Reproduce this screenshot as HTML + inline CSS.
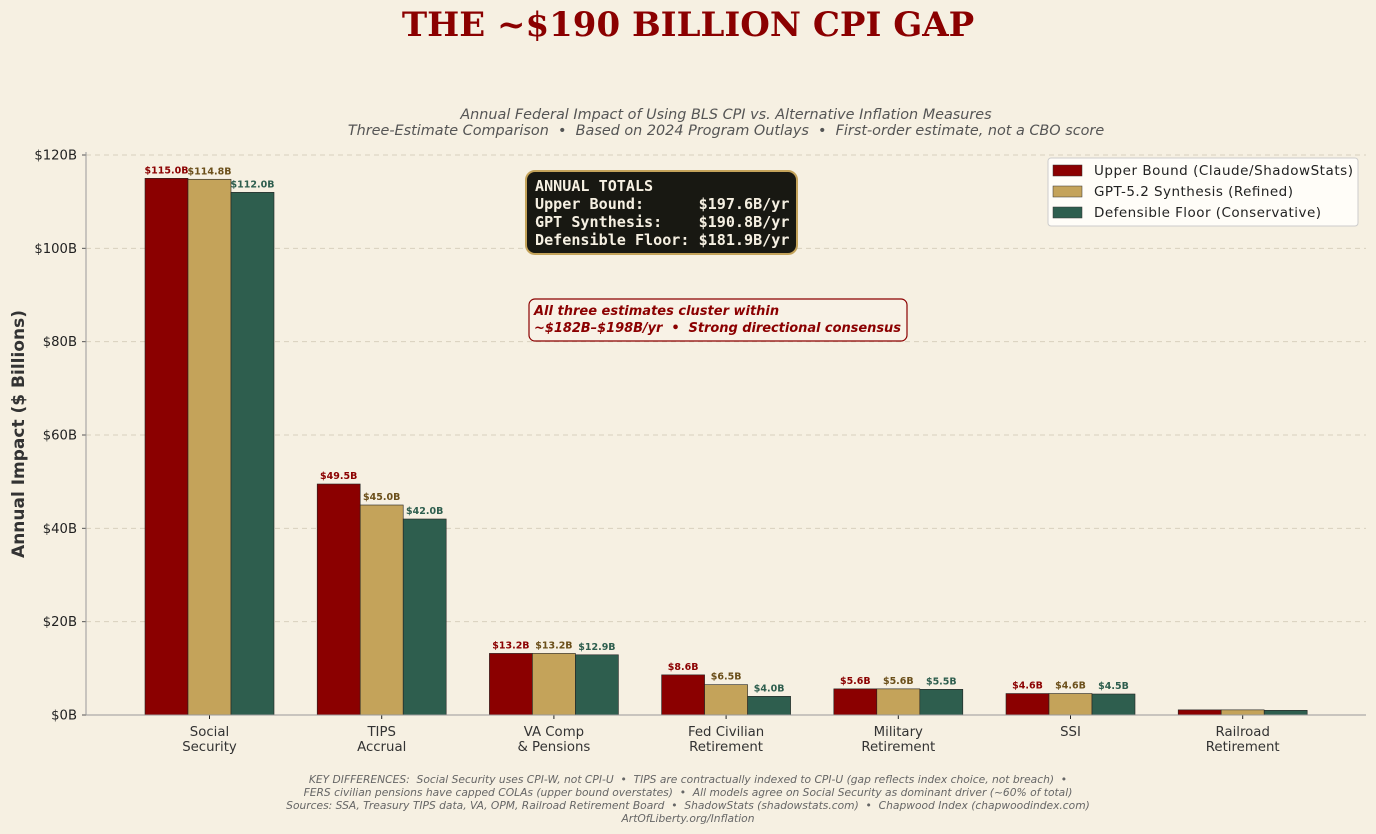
<!DOCTYPE html>
<html><head><meta charset="utf-8"><style>
html,body{margin:0;padding:0;background:#f6f0e2;width:1376px;height:834px;overflow:hidden}
svg{display:block}
text{font-family:"DejaVu Sans","Liberation Sans",sans-serif;white-space:pre}
</style></head><body>
<svg id="chart" width="1376" height="834" xmlns="http://www.w3.org/2000/svg">
<rect width="1376" height="834" fill="#f6f0e2"/>
<text x="688" y="36" text-anchor="middle" font-weight="bold" font-size="34" fill="#8b0000" style="font-family:'DejaVu Serif','Liberation Serif',serif">THE ~$190 BILLION CPI GAP</text>
<text x="726" y="119" text-anchor="middle" font-style="italic" font-size="14.4" fill="#555">Annual Federal Impact of Using BLS CPI vs. Alternative Inflation Measures</text>
<text x="726" y="135" text-anchor="middle" font-style="italic" font-size="14.4" fill="#555">Three-Estimate Comparison  •  Based on 2024 Program Outlays  •  First-order estimate, not a CBO score</text>
<g id="grid"></g>
<g id="bars"></g>
<g id="axes"></g>
<text transform="translate(24,434) rotate(-90)" text-anchor="middle" font-weight="bold" font-size="17" fill="#333">Annual Impact ($ Billions)</text>
<g>
<rect x="526" y="171" width="271" height="83" rx="9" fill="#181812" stroke="#c4a35a" stroke-width="2"/>
<text font-weight="bold" font-size="15.1" fill="#f6f0e2" style="font-family:'DejaVu Sans Mono','Liberation Mono',monospace"><tspan x="535" y="191">ANNUAL TOTALS</tspan><tspan x="535" y="209">Upper Bound:      $197.6B/yr</tspan><tspan x="535" y="227">GPT Synthesis:    $190.8B/yr</tspan><tspan x="535" y="245">Defensible Floor: $181.9B/yr</tspan></text>
</g>
<g>
<rect x="529" y="299" width="378" height="42" rx="6" fill="#f8f2e6" stroke="#8b0000" stroke-width="1.2"/>
<text x="534" y="315" font-style="italic" font-weight="bold" font-size="13" fill="#8b0000">All three estimates cluster within</text>
<text x="534" y="332" font-style="italic" font-weight="bold" font-size="13" fill="#8b0000" textLength="367">~$182B–$198B/yr  •  Strong directional consensus</text>
</g>
<g>
<rect x="1048" y="158" width="310" height="68" rx="3" fill="#fffdf8" stroke="#ccc"/>
<rect x="1053" y="165" width="29" height="11" fill="#8b0000" stroke="#333" stroke-width="0.5"/>
<text x="1094" y="175" font-size="13.5" fill="#222" textLength="259">Upper Bound (Claude/ShadowStats)</text>
<rect x="1053" y="186" width="29" height="11" fill="#c4a35a" stroke="#333" stroke-width="0.5"/>
<text x="1094" y="196" font-size="13.5" fill="#222" textLength="199">GPT-5.2 Synthesis (Refined)</text>
<rect x="1053" y="207" width="29" height="11" fill="#2e5e4e" stroke="#333" stroke-width="0.5"/>
<text x="1094" y="217" font-size="13.5" fill="#222" textLength="227">Defensible Floor (Conservative)</text>
</g>
<g font-style="italic" font-size="10.7" fill="#666" text-anchor="middle">
<text x="688" y="783">KEY DIFFERENCES:  Social Security uses CPI-W, not CPI-U  •  TIPS are contractually indexed to CPI-U (gap reflects index choice, not breach)  •</text>
<text x="688" y="796">FERS civilian pensions have capped COLAs (upper bound overstates)  •  All models agree on Social Security as dominant driver (~60% of total)</text>
<text x="688" y="809">Sources: SSA, Treasury TIPS data, VA, OPM, Railroad Retirement Board  •  ShadowStats (shadowstats.com)  •  Chapwood Index (chapwoodindex.com)</text>
<text x="688" y="822">ArtOfLiberty.org/Inflation</text>
</g>
</svg>
<script>
const categories = [["Social","Security"],["TIPS","Accrual"],["VA Comp","& Pensions"],["Fed Civilian","Retirement"],["Military","Retirement"],["SSI"],["Railroad","Retirement"]];
const upperBound = [115.0,49.5,13.2,8.6,5.6,4.6,1.1];
const gptSynthesis = [114.8,45.0,13.2,6.5,5.6,4.6,1.1];
const defensibleFloor = [112.0,42.0,12.9,4.0,5.5,4.5,1.0];
const showLabels = [true,true,true,true,true,true,false];
const yTicks = [0,20,40,60,80,100,120];

const NS="http://www.w3.org/2000/svg";
const x0=86,x1=1366,yBase=715,yTop=155,yMax=120;
const y=v=>yBase-(v/yMax)*(yBase-yTop);
const xc=i=>209.5+i*172.2;
const bw=43;
function mk(tag,attrs,parent,txt){const e=document.createElementNS(NS,tag);for(const k in attrs)e.setAttribute(k,attrs[k]);if(txt!==undefined)e.textContent=txt;parent.appendChild(e);return e;}
const grid=document.getElementById('grid'),bars=document.getElementById('bars'),axes=document.getElementById('axes');
yTicks.forEach(t=>{
  if(t>0){const g=mk('line',{x1:x0,x2:x1,y1:y(t),y2:y(t),stroke:'#d8d0bd','stroke-dasharray':'5,4','stroke-width':1},grid);
  
  }
  const tk=mk('text',{x:77,y:y(t)+4.5,'text-anchor':'end','font-size':13.2,fill:'#222'},axes,'$'+t+'B');
  
  
  mk('line',{x1:82,x2:86,y1:y(t),y2:y(t),stroke:'#555'},axes);
});
const series=[[upperBound,'#8b0000','#8b0000','upper'],[gptSynthesis,'#c4a35a','#6b4f1a','gpt'],[defensibleFloor,'#2e5e4e','#2e5e4e','floor']];
categories.forEach((c,i)=>{
  series.forEach((s,j)=>{
    const v=s[0][i];const bx=xc(i)-1.5*bw+j*bw;
    const r=mk('rect',{x:bx,y:y(v),width:bw,height:yBase-y(v),fill:s[1],stroke:'#222','stroke-width':0.6},bars);
    
    
    if(showLabels[i]){const l=mk('text',{x:bx+bw/2,y:y(v)-5,'text-anchor':'middle','font-size':9.5,'font-weight':'bold',fill:s[2]},bars,'$'+v.toFixed(1)+'B');
    
    }
  });
  mk('line',{x1:xc(i),x2:xc(i),y1:yBase,y2:yBase+4,stroke:'#222'},axes);
  c.forEach((ln,k)=>{const t=mk('text',{x:xc(i),y:736+k*15,'text-anchor':'middle','font-size':13.3,fill:'#333'},axes,ln);
  
  });
});
mk('line',{x1:x0,x2:x0,y1:152,y2:yBase,stroke:'#999'},axes);
mk('line',{x1:x0,x2:x1,y1:yBase,y2:yBase,stroke:'#999'},axes);
</script>
</body></html>
